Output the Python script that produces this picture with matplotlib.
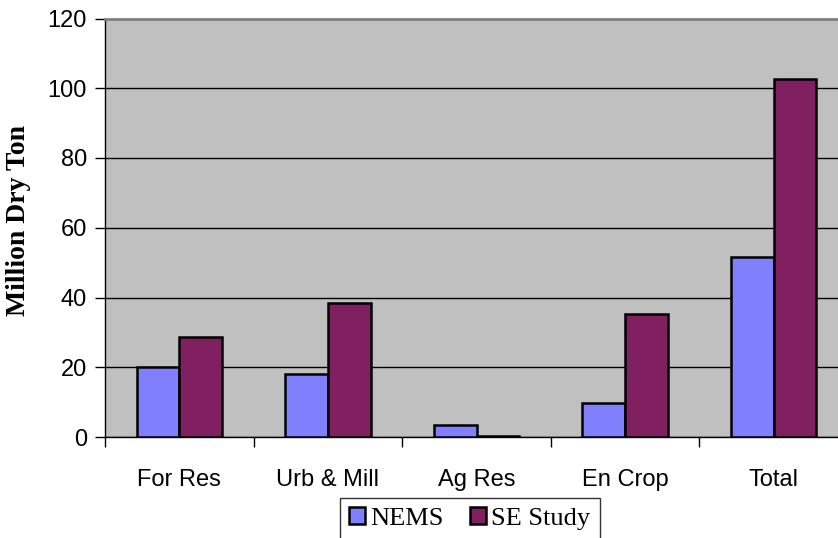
import matplotlib
matplotlib.use("Agg")
import matplotlib.pyplot as plt
import numpy as np

categories = ["For Res", "Urb & Mill", "Ag Res", "En Crop", "Total"]
nems = [20.1, 18.1, 3.5, 9.8, 51.5]
se_study = [28.8, 38.5, 0.4, 35.3, 102.7]
series_names = ["NEMS", "SE Study"]
yticks = [0, 20, 40, 60, 80, 100, 120]

W, H = 838, 538
fig = plt.figure(figsize=(W / 100, H / 100), dpi=100)
ax = fig.add_axes([105 / W, (H - 437) / H, (848 - 105) / W, (437 - 18.5) / H])
ax.set_facecolor("#C0C0C0")

x = np.arange(len(categories))
bw = 0.287
ax.bar(x - bw / 2, nems, bw, color="#8080FF", edgecolor="black", linewidth=1.8, label=series_names[0], zorder=3)
ax.bar(x + bw / 2, se_study, bw, color="#802060", edgecolor="black", linewidth=1.8, label=series_names[1], zorder=3)

ax.set_xlim(-0.5, len(categories) - 0.5)
ax.set_ylim(0, 120)
ax.set_yticks(yticks)
ax.set_yticklabels([str(v) for v in yticks], fontsize=17, family="Liberation Sans")
ax.yaxis.grid(True, color="black", linewidth=1.0, zorder=1)
ax.set_axisbelow(True)

ax.set_xticks(np.arange(len(categories) + 1) - 0.5)
ax.set_xticklabels([])
ax.set_xticks(x, minor=True)
ax.set_xticklabels(categories, minor=True, fontsize=17, family="Liberation Sans")
ax.tick_params(axis="x", which="minor", length=0, pad=23)
ax.tick_params(axis="x", which="major", direction="out", length=7, width=1, color="black")
ax.tick_params(axis="y", direction="out", length=7, width=1, color="black", pad=6)

for s in ["left", "bottom"]:
    ax.spines[s].set_color("black")
    ax.spines[s].set_linewidth(1.0)
ax.spines["top"].set_color("#808080")
ax.spines["top"].set_linewidth(2.0)
ax.spines["right"].set_color("#808080")
ax.spines["right"].set_linewidth(2.0)

ax.set_ylabel("Million Dry Ton", fontsize=20, fontweight="bold", family="Liberation Serif")
ax.yaxis.set_label_coords(-0.10, 0.518)

leg = fig.legend(loc="upper left", bbox_to_anchor=(340 / W, (H - 498) / H), ncol=2,
                 prop={"family": "Liberation Serif", "size": 19},
                 frameon=True, fancybox=False, edgecolor="black",
                 handlelength=0.6, handleheight=0.6, handletextpad=0.2, columnspacing=1.0,
                 borderpad=0.35, borderaxespad=0)
leg.get_frame().set_linewidth(1.0)

fig.savefig("out.png", dpi=100)
